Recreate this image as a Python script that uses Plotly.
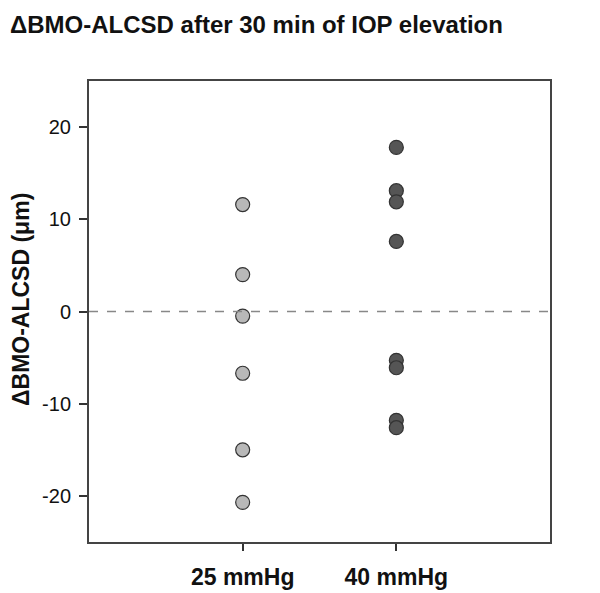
import plotly.graph_objects as go

categories = ["25 mmHg", "40 mmHg"]
values_25 = [11.6, 4.0, -0.5, -6.7, -15.0, -20.7]
values_40 = [17.8, 13.1, 11.9, 7.6, -5.3, -6.1, -11.8, -12.6]
y_ticks = [-20, -10, 0, 10, 20]

# page body adds an 8px offset; margins compensate
L, T, R, B = 81, 73, 58, 59
W, H = 600, 593
pw, ph = W - L - R, H - T - B

fig = go.Figure()
fig.add_trace(go.Scatter(
    x=[1] * len(values_25), y=values_25, mode="markers",
    marker=dict(size=14, color="#b8b8b8", line=dict(color="#333333", width=1.2)),
    showlegend=False))
fig.add_trace(go.Scatter(
    x=[2] * len(values_40), y=values_40, mode="markers",
    marker=dict(size=14, color="#555555", line=dict(color="#333333", width=1.2)),
    showlegend=False))

fig.add_shape(type="line", xref="paper", x0=0, x1=1, yref="y", y0=0, y1=0,
              line=dict(color="#888888", width=1.5, dash="dash"))

fig.add_annotation(text="<b>ΔBMO-ALCSD (μm)</b>", xref="paper", yref="paper",
                   x=(13 - L) / pw, y=(H - B - 292) / ph, textangle=-90,
                   showarrow=False, xanchor="center", yanchor="middle",
                   font=dict(size=23, color="#111111"))

fig.update_layout(
    width=W, height=H,
    margin=dict(l=L, r=R, t=T, b=B),
    plot_bgcolor="white", paper_bgcolor="white",
    font=dict(family="Liberation Sans, Arial", color="#111111"),
    title=dict(text="<b>ΔBMO-ALCSD after 30 min of IOP elevation</b>",
               x=2 / W, xanchor="left", y=1 - 8 / H, yanchor="top",
               font=dict(size=24, color="#111111")),
)
fig.update_xaxes(
    range=[0, 3], tickvals=[1, 2], ticktext=["<b>%s</b>" % c for c in categories],
    showline=True, linecolor="#444444", linewidth=2, mirror=True,
    ticks="outside", ticklen=7, tickwidth=2, tickcolor="#333333",
    tickfont=dict(size=23), showgrid=False, zeroline=False,
    ticklabelstandoff=6, automargin=False)
fig.update_yaxes(
    range=[-25, 25], tickvals=y_ticks, ticktext=[str(v) for v in y_ticks],
    showline=True, linecolor="#444444", linewidth=2, mirror=True,
    ticks="outside", ticklen=8, tickwidth=1.5, tickcolor="#333333",
    tickfont=dict(size=20), showgrid=False, zeroline=False,
    ticklabelstandoff=4, automargin=False)

fig.write_html("out.html")
